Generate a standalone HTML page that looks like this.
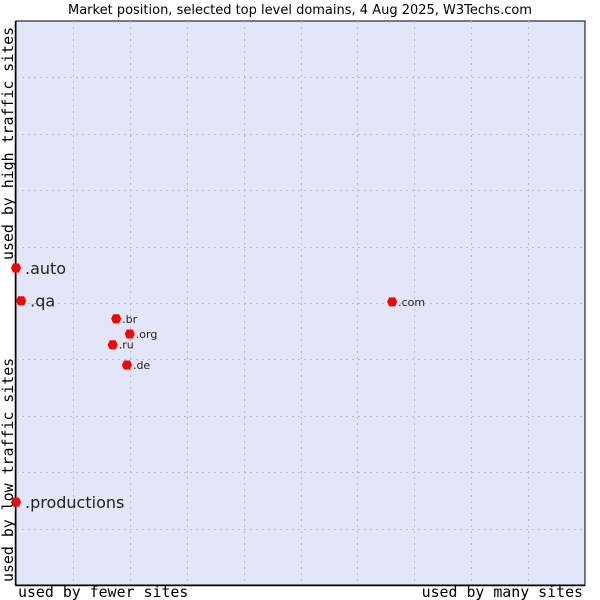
<!DOCTYPE html>
<html><head><meta charset="utf-8"><style>
body{margin:0;background:#fff;}
svg{display:block;}
</style></head><body>
<svg id="chart" width="600" height="600" xmlns="http://www.w3.org/2000/svg">
<text x="300" y="14" text-anchor="middle" font-family="DejaVu Sans, Liberation Sans, sans-serif" font-size="13" fill="#000">Market position, selected top level domains, 4 Aug 2025, W3Techs.com</text>
<rect x="16" y="21" width="569" height="564" fill="#e3e5f8" stroke="#000" stroke-width="1"/>
<g id="grid"></g>
<line x1="15.5" y1="21" x2="15.5" y2="585.5" stroke="#000" stroke-width="1.5"/>
<line x1="15.5" y1="585.5" x2="585" y2="585.5" stroke="#000" stroke-width="1.5"/>
<g id="points"></g>
<text x="18" y="597" font-family="DejaVu Sans Mono, Liberation Mono, monospace" font-size="14.9" fill="#000">used by fewer sites</text>
<text x="583" y="597" text-anchor="end" font-family="DejaVu Sans Mono, Liberation Mono, monospace" font-size="14.9" fill="#000">used by many sites</text>
<text transform="translate(13,260) rotate(-90)" font-family="DejaVu Sans Mono, Liberation Mono, monospace" font-size="14.9" fill="#000">used by high traffic sites</text>
<text transform="translate(13,582) rotate(-90)" font-family="DejaVu Sans Mono, Liberation Mono, monospace" font-size="14.9" fill="#000">used by low traffic sites</text>
</svg>
<script>
const domains = [".auto", ".qa", ".productions", ".com", ".br", ".org", ".ru", ".de"];
const xValues = [0, 0.9, 0, 66.1, 17.6, 20.0, 17.0, 19.5];
const yValues = [56.2, 50.4, 14.7, 50.2, 47.2, 44.5, 42.6, 39.0];
const bigLabel = [true, true, true, false, false, false, false, false];

const NS = "http://www.w3.org/2000/svg";
const X0 = 16, X1 = 585, Y0 = 585, Y1 = 21;
function sx(v){ return X0 + v / 100 * (X1 - X0); }
function sy(v){ return Y0 - v / 100 * (Y0 - Y1); }

const grid = document.getElementById("grid");
for (let i = 1; i < 10; i++) {
  const gx = Math.round(sx(i * 10)) + 0.5;
  const l = document.createElementNS(NS, "line");
  
  
  l.setAttribute("x1", gx); l.setAttribute("x2", gx);
  l.setAttribute("y1", Y1); l.setAttribute("y2", Y0);
  l.setAttribute("stroke", "#bbbbbb"); l.setAttribute("stroke-dasharray", "2,4");
  grid.appendChild(l);
  const gy = Math.round(sy(i * 10)) + 0.5;
  const h = document.createElementNS(NS, "line");
  
  
  h.setAttribute("x1", X0); h.setAttribute("x2", X1);
  h.setAttribute("y1", gy); h.setAttribute("y2", gy);
  h.setAttribute("stroke", "#bbbbbb"); h.setAttribute("stroke-dasharray", "2,4");
  grid.appendChild(h);
}

const pts = document.getElementById("points");
domains.forEach((d, i) => {
  const cx = sx(xValues[i]), cy = sy(yValues[i]);
  const p = document.createElementNS(NS, "path");
  
  
  p.setAttribute("d", `M${cx-5},${cy} L${cx-3},${cy-4.5} L${cx+3},${cy-4.5} L${cx+5},${cy} L${cx+3},${cy+4.5} L${cx-3},${cy+4.5} Z`);
  p.setAttribute("fill", "#f00");
  pts.appendChild(p);
  const t = document.createElementNS(NS, "text");
  
  
  t.setAttribute("x", cx + (bigLabel[i] ? 9 : 6));
  t.setAttribute("y", cy + (bigLabel[i] ? 6 : 4));
  t.setAttribute("font-family", "DejaVu Sans, Liberation Sans, sans-serif");
  t.setAttribute("font-size", bigLabel[i] ? "16" : "11");
  t.setAttribute("fill", "#222");
  t.textContent = d;
  pts.appendChild(t);
});
</script>
</body></html>
